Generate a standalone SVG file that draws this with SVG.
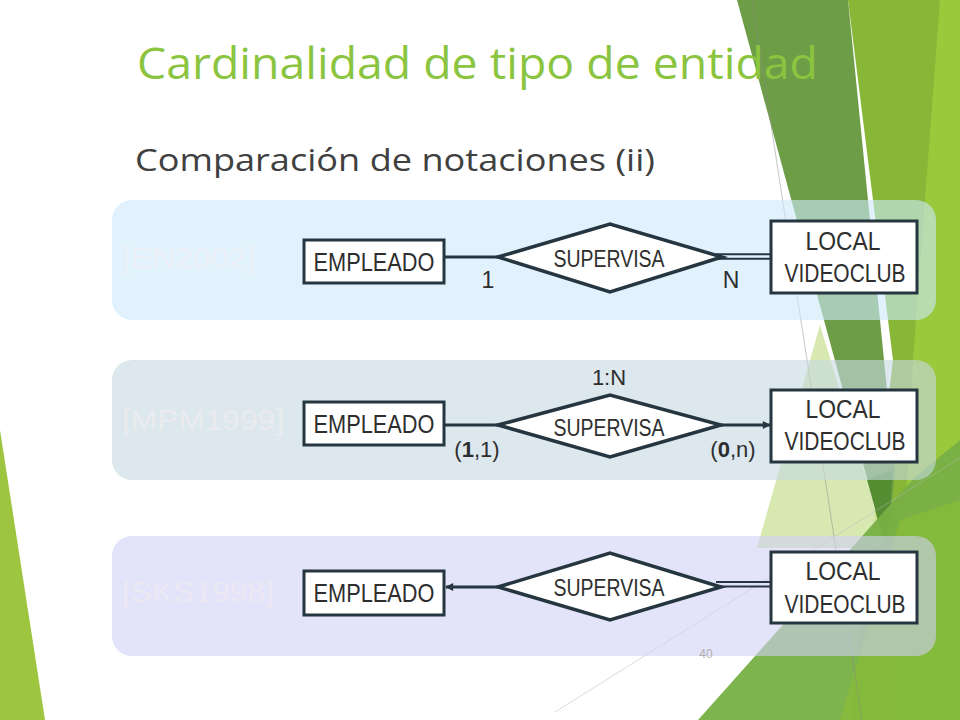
<svg xmlns="http://www.w3.org/2000/svg" width="960" height="720" viewBox="0 0 960 720">
<defs>
<style>
.ent rect{fill:#fff;stroke:#263640;stroke-width:3}
.rel polygon{fill:#fff;stroke:#263640;stroke-width:3.5;stroke-linejoin:miter}
.t{font-family:"Liberation Sans Narrow","Liberation Sans",Arial,sans-serif;fill:#2e2e2e;text-anchor:middle}
.ln{stroke:#263640;stroke-width:3;fill:none}
.dbl{stroke:#263640;stroke-width:2;fill:none}
.lbl{font-family:"Liberation Sans",Arial,sans-serif;font-size:30px;fill:#f6eeee;opacity:0.5}
.band{opacity:0.6}
</style>
<marker id="arr" viewBox="0 0 10 10" refX="9" refY="5" markerWidth="9" markerHeight="8" markerUnits="userSpaceOnUse" orient="auto">
<path d="M0,0 L10,5 L0,10 z" fill="#263640"/>
</marker>
</defs>
<rect width="960" height="720" fill="#ffffff"/>
<g id="decor">
<polygon points="0,430 0,720 45,720" fill="#9dc53f"/>
<polygon points="848,0 960,0 960,720 850,720 893,360" fill="#88b637"/>
<polygon points="940,0 960,0 960,720 895,720 913,360" fill="#9bc93c"/>
<polygon points="737,0 848,0 895,470 887,552" fill="#6e9d48"/>
<polygon points="820,325 867,480 885,548 757,548" fill="#d3e6a8" opacity="0.9"/>
<polygon points="867,480 893,470 887,552" fill="#4f8a2d" opacity="0.8"/>
<polygon points="698,720 914,478 960,440 960,720" fill="#77b045" opacity="0.95"/>
<polygon points="840,720 900,520 960,500 960,720" fill="#8cc035" opacity="0.6"/>
<line x1="752" y1="0" x2="862" y2="720" stroke="#8a8a8a" stroke-width="0.8" opacity="0.6"/>
<line x1="555" y1="712" x2="960" y2="458" stroke="#b8b8b8" stroke-width="0.7" opacity="0.7"/>
</g>
<g id="title">
<text x="137" y="79" font-family="'Open Sans','Noto Sans',sans-serif" font-size="44" fill="#8bc43f" textLength="681" lengthAdjust="spacingAndGlyphs">Cardinalidad de tipo de entidad</text>
<text x="135" y="171" font-family="'Open Sans','Noto Sans',sans-serif" font-size="31" fill="#404040" textLength="520" lengthAdjust="spacingAndGlyphs">Comparación de notaciones (ii)</text>
</g>
<g id="bands">
<rect class="band" x="112" y="200" width="824" height="120" rx="20" fill="#cde9fc"/>
<rect class="band" x="112" y="360" width="824" height="120" rx="20" fill="#c6d9e3"/>
<rect class="band" x="112" y="536" width="824" height="120" rx="20" fill="#d0d0f5"/>
<text class="lbl" x="122" y="268" textLength="133" lengthAdjust="spacingAndGlyphs">[EN2002]</text>
<text class="lbl" x="122" y="430" textLength="162" lengthAdjust="spacingAndGlyphs">[MPM1999]</text>
<text class="lbl" x="122" y="602" textLength="152" lengthAdjust="spacingAndGlyphs">[SKS1998]</text>
</g>
<g id="connectors">
<line class="ln" x1="445" y1="257" x2="499" y2="257"/>
<line class="dbl" x1="716" y1="254.3" x2="771" y2="254.3"/>
<line class="dbl" x1="716" y1="258.8" x2="771" y2="258.8"/>
<line class="ln" x1="445" y1="425" x2="499" y2="425"/>
<line class="ln" x1="720" y1="425" x2="770" y2="425" marker-end="url(#arr)"/>
<line class="ln" x1="499" y1="587" x2="446" y2="587" marker-end="url(#arr)"/>
<line class="dbl" x1="716" y1="582" x2="771" y2="582"/>
<line class="dbl" x1="716" y1="586.5" x2="771" y2="586.5"/>
</g>
<g id="empleado1" class="ent"><rect x="304" y="240" width="140" height="43"/><text class="t" x="374" y="271" font-size="26" textLength="121" lengthAdjust="spacingAndGlyphs">EMPLEADO</text></g>
<g id="supervisa1" class="rel"><polygon points="498,257 610,224 722,257 610,292"/><text class="t" x="609" y="267" font-size="24" textLength="111" lengthAdjust="spacingAndGlyphs">SUPERVISA</text></g>
<g id="local1" class="ent"><rect x="771" y="221" width="146" height="72"/><text class="t" x="843" y="250" font-size="26" textLength="75" lengthAdjust="spacingAndGlyphs">LOCAL</text><text class="t" x="845" y="282" font-size="26" textLength="121" lengthAdjust="spacingAndGlyphs">VIDEOCLUB</text></g>
<g id="card1"><text class="t" x="488" y="288" font-size="23">1</text><text class="t" x="731" y="288" font-size="23">N</text></g>

<g id="empleado2" class="ent"><rect x="304" y="402" width="140" height="43"/><text class="t" x="374" y="433" font-size="26" textLength="121" lengthAdjust="spacingAndGlyphs">EMPLEADO</text></g>
<g id="supervisa2" class="rel"><polygon points="498,425 610,395 721,425 610,457"/><text class="t" x="609" y="436" font-size="24" textLength="111" lengthAdjust="spacingAndGlyphs">SUPERVISA</text></g>
<g id="local2" class="ent"><rect x="771" y="390" width="146" height="72"/><text class="t" x="843" y="418" font-size="26" textLength="75" lengthAdjust="spacingAndGlyphs">LOCAL</text><text class="t" x="845" y="450" font-size="26" textLength="121" lengthAdjust="spacingAndGlyphs">VIDEOCLUB</text></g>
<g id="card2"><text class="t" x="609" y="385" font-size="22">1:N</text><text class="t" x="477" y="457" font-size="22">(<tspan font-weight="bold">1</tspan>,1)</text><text class="t" x="733" y="457" font-size="22">(<tspan font-weight="bold">0</tspan>,n)</text></g>

<g id="empleado3" class="ent"><rect x="304" y="571" width="140" height="44"/><text class="t" x="374" y="602" font-size="26" textLength="121" lengthAdjust="spacingAndGlyphs">EMPLEADO</text></g>
<g id="supervisa3" class="rel"><polygon points="498,587 610,553 721,587 610,620"/><text class="t" x="609" y="596" font-size="24" textLength="111" lengthAdjust="spacingAndGlyphs">SUPERVISA</text></g>
<g id="local3" class="ent"><rect x="771" y="552" width="146" height="71"/><text class="t" x="843" y="580" font-size="26" textLength="75" lengthAdjust="spacingAndGlyphs">LOCAL</text><text class="t" x="845" y="613" font-size="26" textLength="121" lengthAdjust="spacingAndGlyphs">VIDEOCLUB</text></g>
<text x="706" y="658" font-family="'Liberation Sans',Arial,sans-serif" font-size="12" fill="#b0b0b0" text-anchor="middle">40</text>
</svg>
